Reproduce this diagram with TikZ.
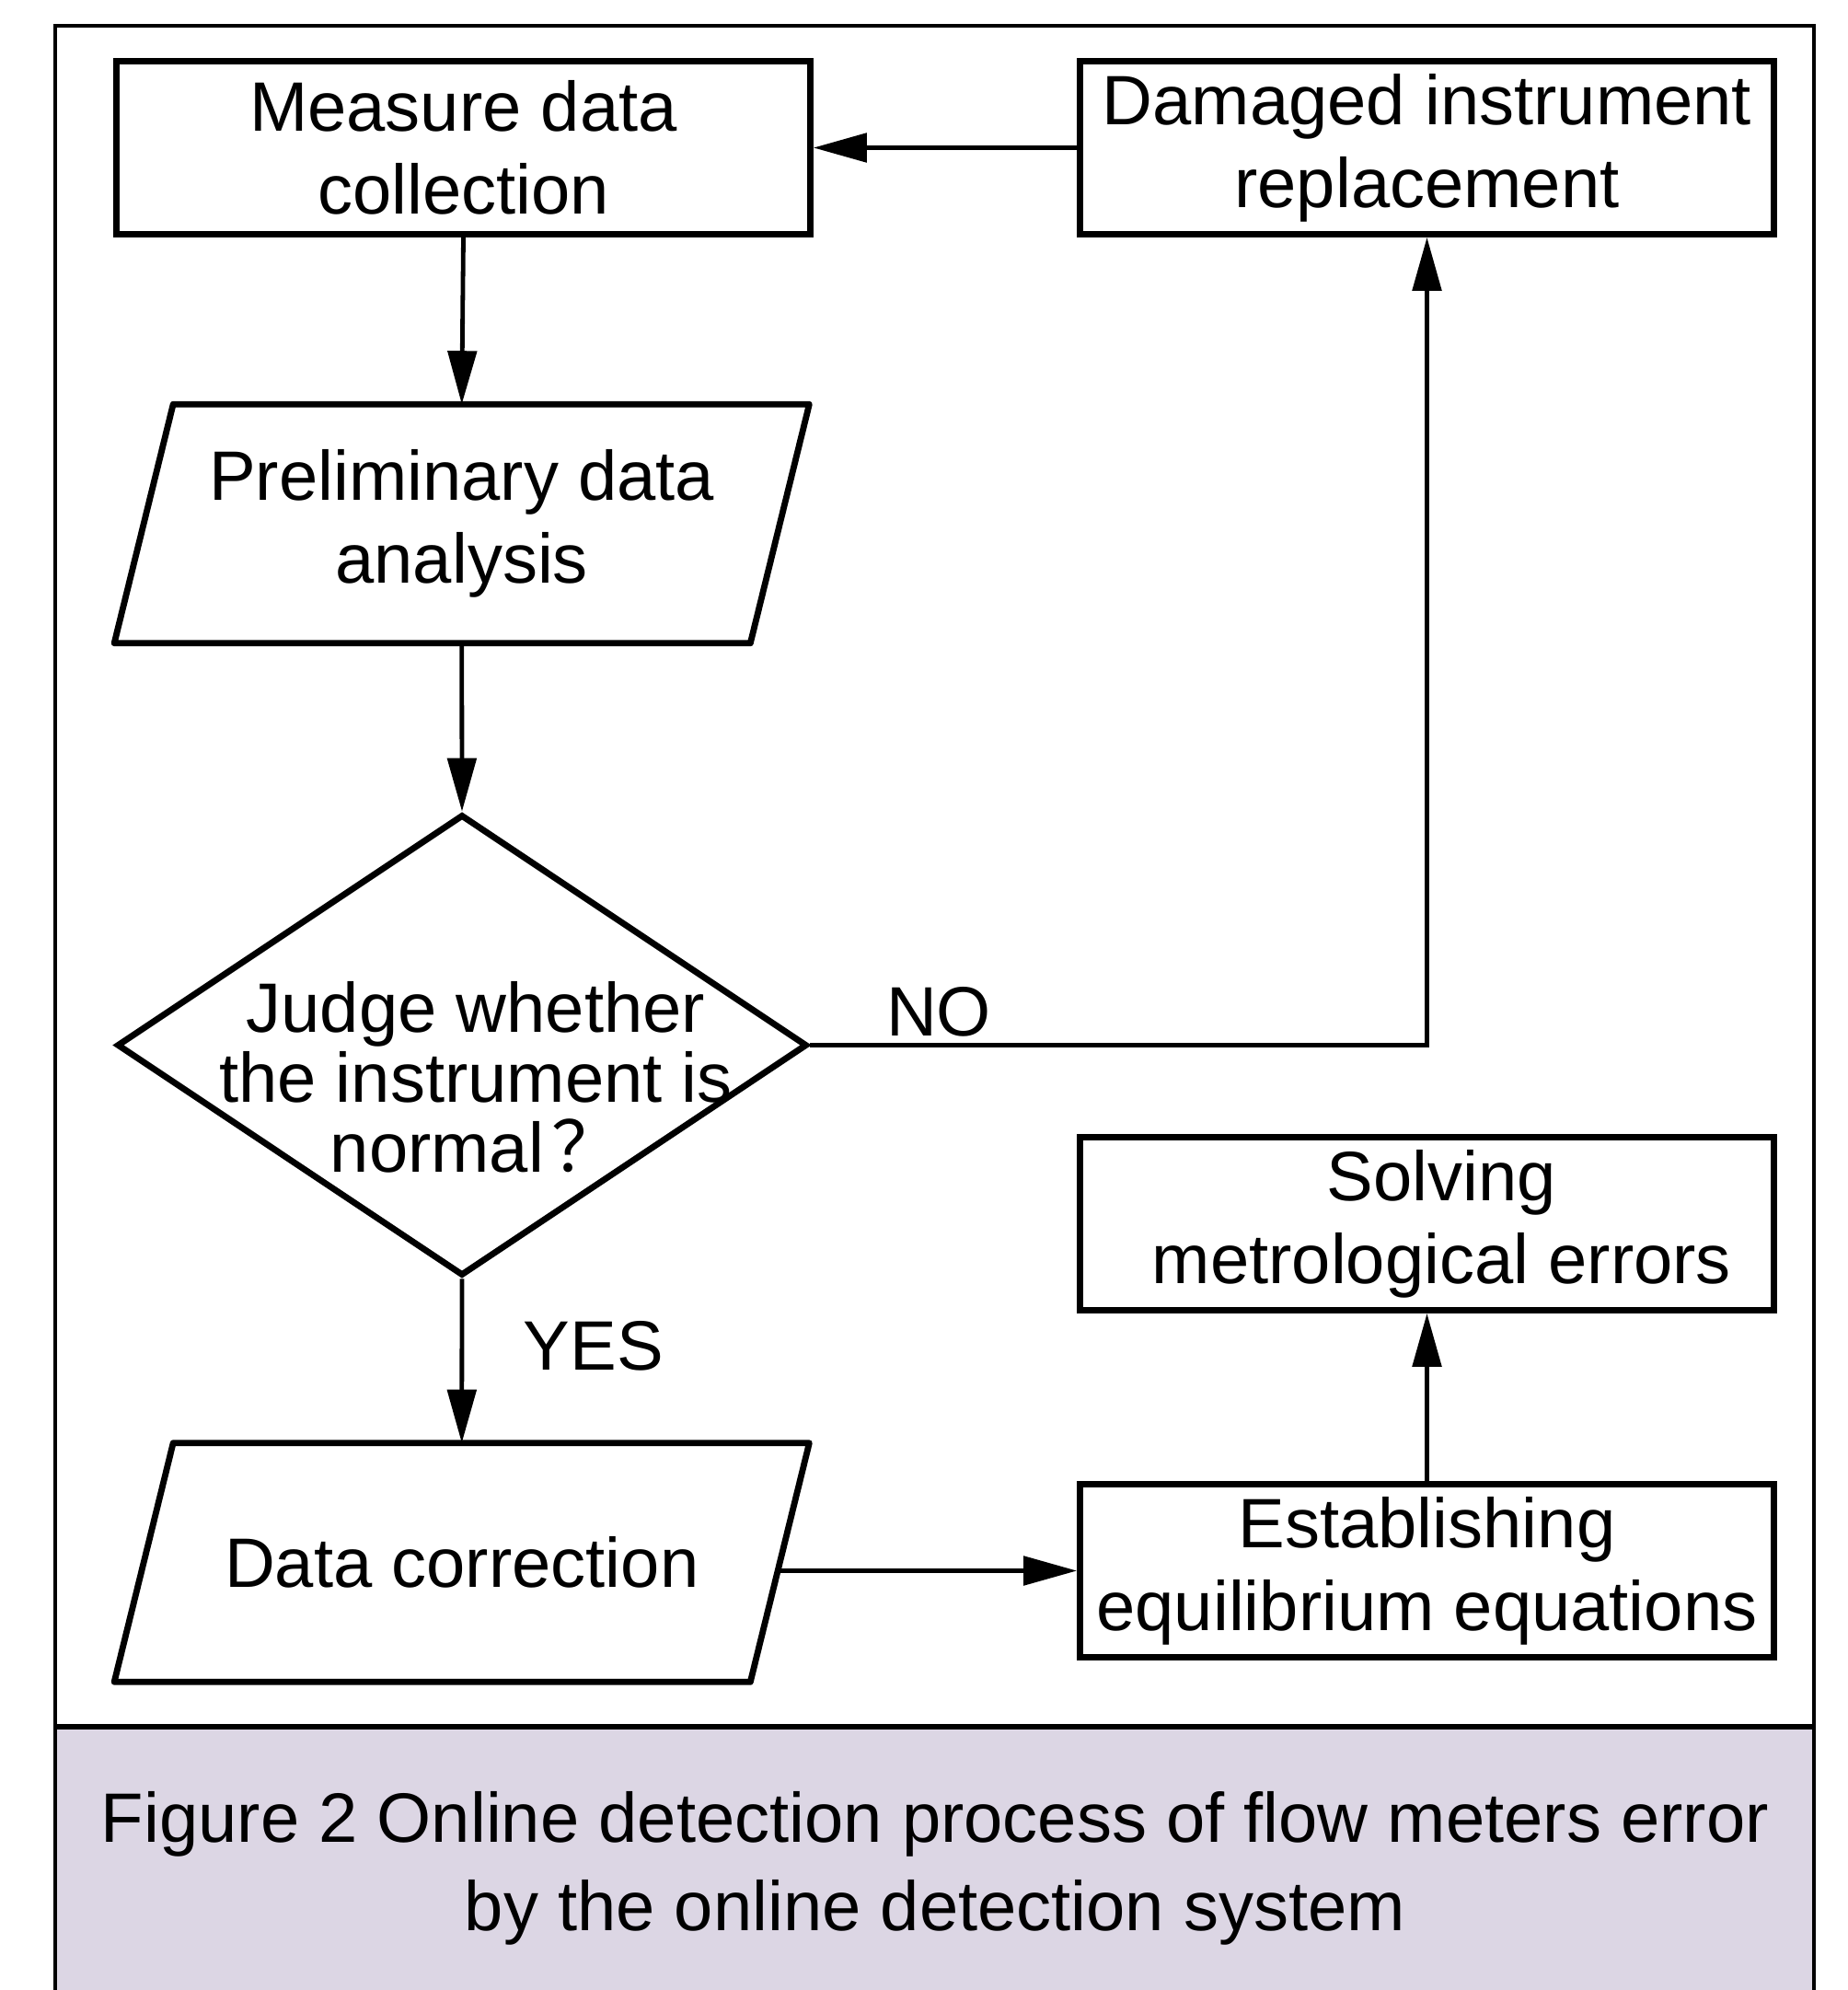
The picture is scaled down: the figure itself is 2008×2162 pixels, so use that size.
\documentclass[tikz,border=0pt]{standalone}
\usepackage{fontspec}
\setmainfont{Liberation Sans}
\newfontfamily\cjkfont{Noto Sans CJK SC}
\usetikzlibrary{arrows.meta,shapes.geometric}
\definecolor{capbg}{RGB}{220,214,228}
\begin{document}
\begin{tikzpicture}[x=0.25pt,y=-0.25pt,
  txt/.style={inner sep=0pt, align=center, font=\fontsize{19}{22.5}\selectfont},
  box/.style={txt, draw, line width=1.7pt, minimum width=188.5pt, minimum height=47pt},
  para/.style={txt, minimum width=172.4pt, minimum height=64.5pt},
  decision/.style={diamond, draw, line width=1.7pt, inner sep=0pt, minimum width=187.5pt, minimum height=125.25pt},
  lbl/.style={inner sep=0pt, font=\fontsize{19}{22.5}\selectfont},
  conn/.style={line width=1.2pt, -{Triangle[length=14.5pt,width=7.8pt]}},
  parashape/.style={line width=1.7pt, line join=round}
]
\useasboundingbox (0,0) rectangle (2008,2162);
% caption band and frame
\fill[capbg] (60,1876) rectangle (1971,2162);
\draw[line width=1pt] (60,2162) -- (60,28) -- (1971,28) -- (1971,2162);
\draw[line width=1.5pt] (60,1876) -- (1971,1876);

% nodes
\node[box] (meas) at (503.5,160.5) {Measure data\\collection};
\node[box] (dam) at (1550.5,160.5) {Damaged instrument\\replacement};
\node[para] (pre) at (501.75,569) {Preliminary data\\analysis};
\draw[parashape] ([xshift=8pt]pre.north west) -- ([xshift=8pt]pre.north east) -- ([xshift=-8pt]pre.south east) -- ([xshift=-8pt]pre.south west) -- cycle;
\node[decision] (dec) at (502,1135.5) {};
\node[txt, font=\fontsize{19}{19}\selectfont] (dectxt) at (517,1170) {Judge whether\\the instrument is\\normal\hspace{2pt}{\cjkfont ？}};
\node[para] (corr) at (501.75,1697.5) {Data correction};
\draw[parashape] ([xshift=8pt]corr.north west) -- ([xshift=8pt]corr.north east) -- ([xshift=-8pt]corr.south east) -- ([xshift=-8pt]corr.south west) -- cycle;
\node[box] (sol) at (1550.5,1329.5) {\hspace*{8pt}Solving\\\hspace*{8pt}metrological errors};
\node[box] (est) at (1550.5,1706.5) {Establishing\\equilibrium equations};

% connectors
\draw[conn] (dam.west) -- (meas.east);
\draw[conn] (meas.south) -- (pre.north);
\draw[conn] (pre.south) -- (dec.north);
\draw[conn] (dec.east) -| (dam.south);
\draw[conn] (dec.south) -- (corr.north);
\draw[conn] (corr.east |- est.west) -- (est.west);
\draw[conn] (est.north) -- (sol.south);

% labels
\node[lbl] (no) at (1020,1099) {NO};
\node[lbl] (yes) at (645,1462) {YES};

% caption
\node[txt, font=\fontsize{19}{24}\selectfont] (cap) at (1016,2030) {Figure 2 Online detection process of flow meters error\\by the online detection system};
\end{tikzpicture}
\end{document}
